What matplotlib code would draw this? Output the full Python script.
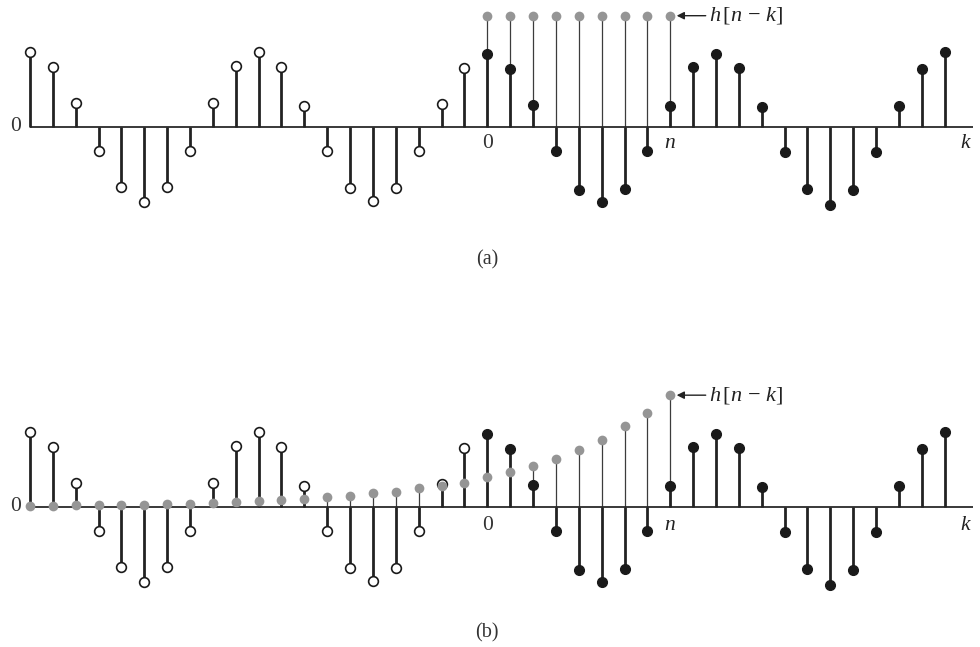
import numpy as np
import matplotlib
matplotlib.use("Agg")
import matplotlib.pyplot as plt

# Fonts: Times-like serif, math pieces in italic.
plt.rcParams["font.family"] = ["Liberation Serif", "DejaVu Serif"]
plt.rcParams["mathtext.fontset"] = "custom"
plt.rcParams["mathtext.rm"] = "Liberation Serif"
plt.rcParams["mathtext.it"] = "Liberation Serif:italic"

# Sample index k and the input signal x[k] (peak = 1).
k = np.arange(-20, 21)
x = [1.0, 0.80, 0.31, -0.32, -0.80, -1.0, -0.80, -0.32, 0.31, 0.81,
     0.99, 0.80, 0.28, -0.32, -0.82, -0.99, -0.82, -0.32, 0.30, 0.78,
     0.97, 0.77, 0.29, -0.32, -0.84, -1.01, -0.83, -0.32, 0.28, 0.79,
     0.97, 0.78, 0.26, -0.34, -0.83, -1.05, -0.85, -0.34, 0.27, 0.77,
     1.0]
n = 8

# h[n-k] for panel (a): constant window from k=0 to k=n.
ka = np.arange(0, n + 1)
ha = [1.48] * len(ka)

# h[n-k] for panel (b): decaying tail from k=-20 to k=n.
kb = np.arange(-20, n + 1)
hb = [0.013, 0.013, 0.017, 0.02, 0.024, 0.028, 0.033, 0.04, 0.049, 0.06,
      0.071, 0.084, 0.101, 0.133, 0.147, 0.18, 0.2, 0.247, 0.28, 0.32,
      0.393, 0.467, 0.547, 0.633, 0.753, 0.893, 1.073, 1.247, 1.487]

W, H = 980, 647
fig = plt.figure(figsize=(W / 100, H / 100), dpi=100)

px_per_k = 22.87
k0_px = 487.3
xlim = (-k0_px / px_per_k, (W - k0_px) / px_per_k)
unit = 75.0  # pixels per unit of x


def panel(top, bottom, axis_px, hk, hv, label, label_px, lab_off):
    ax = fig.add_axes([0, 1 - bottom / H, 1, (bottom - top) / H])
    ax.set_xlim(*xlim)
    ax.set_ylim(-(bottom - axis_px) / unit, (axis_px - top) / unit)
    ax.axis("off")

    xs = np.array(x)
    neg = k < 0
    # thin stems of h[n-k]
    ax.vlines(hk, 0, hv, color="#3c3c3c", lw=0.9, zorder=1)
    # horizontal axis
    ax.hlines(0, -20, 21.25, color="#2a2a2a", lw=1.3, zorder=2)
    # stems of x[k]
    ax.vlines(k, 0, xs, color="#222222", lw=2.0, zorder=3)
    ax.plot(k[neg], xs[neg], "o", ms=7, mfc="white", mec="#1a1a1a",
            mew=1.2, zorder=4)
    ax.plot(k[~neg], xs[~neg], "o", ms=7, mfc="#1a1a1a", mec="#1a1a1a",
            zorder=4)
    # dots of h[n-k]
    ax.plot(hk, hv, "o", ms=7, color="#959595", mec="none", zorder=5)

    fs = 15.5
    ax.text(-20.61, 0, "0", ha="center", va="center", fontsize=fs,
            color="#333333")
    ax.text(0, lab_off, "0", ha="center", va="center", fontsize=fs,
            color="#333333")
    ax.text(n, lab_off, "$n$", ha="center", va="center", fontsize=fs,
            color="#222222")
    ax.text(20.95, lab_off, "$k$", ha="center", va="center", fontsize=fs,
            color="#222222")

    ytop = hv[-1]
    ax.annotate("", xy=(n + 0.28, ytop), xytext=(n + 1.55, ytop),
                arrowprops=dict(arrowstyle="-|>", color="#222222", lw=1.0,
                                mutation_scale=11, shrinkA=0, shrinkB=0))
    ax.text(n + 1.68, ytop, r"$h\,[n\,-\,k]$", ha="left", va="center",
            fontsize=16, color="#222222")

    ax.text(0, -(label_px - axis_px) / unit, label, ha="center", va="center",
            fontsize=14.5, color="#333333")


panel(0, 300, 126.7, ka, ha, "(a)", 260, -0.22)
panel(323, 647, 506.7, kb, hb, "(b)", 633, -0.245)

fig.savefig("out.png", dpi=100)
